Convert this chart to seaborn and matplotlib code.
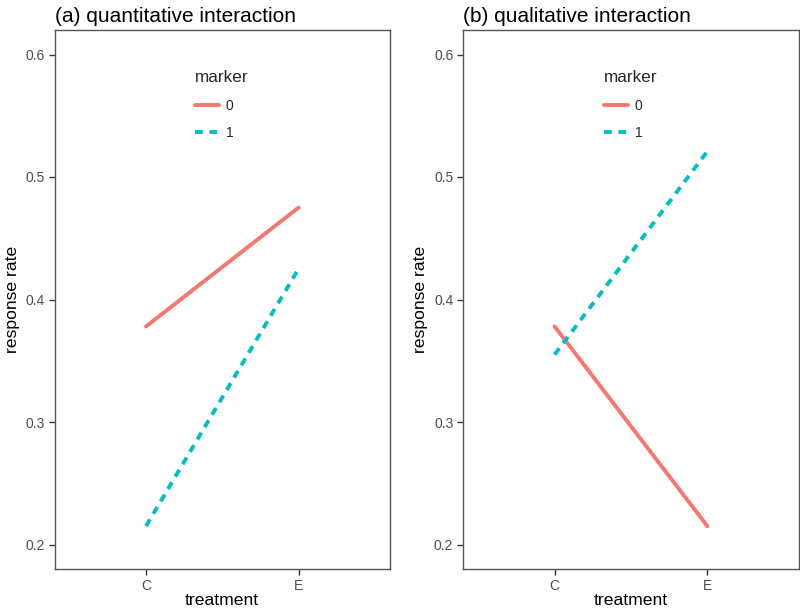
import matplotlib
matplotlib.use("Agg")
import matplotlib.pyplot as plt
import seaborn as sns
import pandas as pd

treatments = ["C", "E"]
markers = ["0", "1"]
rate_a_m0 = [0.378, 0.475]
rate_a_m1 = [0.215, 0.425]
rate_b_m0 = [0.378, 0.215]
rate_b_m1 = [0.355, 0.521]
titles = ["(a) quantitative interaction", "(b) qualitative interaction"]
yticks = [0.2, 0.3, 0.4, 0.5, 0.6]

def make_df(m0, m1):
    rows = []
    for t, v in zip(treatments, m0):
        rows.append({"treatment": t, "response rate": v, "marker": markers[0]})
    for t, v in zip(treatments, m1):
        rows.append({"treatment": t, "response rate": v, "marker": markers[1]})
    return pd.DataFrame(rows)

dfs = [make_df(rate_a_m0, rate_a_m1), make_df(rate_b_m0, rate_b_m1)]

sns.set_style("white")
plt.rcParams["font.family"] = ["Liberation Sans", "DejaVu Sans"]

fig = plt.figure(figsize=(8, 6.1), dpi=100)
axes_pos = [
    [54.5 / 800, 1 - 569 / 610, (390 - 54.5) / 800, (569 - 30) / 610],
    [463 / 800, 1 - 569 / 610, (799 - 463) / 800, (569 - 30) / 610],
]
palette = {"0": "#F8766D", "1": "#00BFC4"}
dashes = {"0": "", "1": (2.0, 1.7)}

for i, (pos, df, title) in enumerate(zip(axes_pos, dfs, titles)):
    ax = fig.add_axes(pos)
    sns.lineplot(data=df, x="treatment", y="response rate", hue="marker",
                 style="marker", palette=palette, dashes=dashes,
                 hue_order=markers, style_order=markers,
                 linewidth=2.8, ax=ax)
    ax.set_xlim(-0.6, 1.6)
    ax.set_ylim(0.18, 0.62)
    ax.set_xticks([0, 1])
    ax.set_xticklabels(treatments)
    ax.set_yticks(yticks)
    ax.set_yticklabels([f"{v:.1f}" for v in yticks])
    for s in ax.spines.values():
        s.set_visible(True)
        s.set_color("#555555")
        s.set_linewidth(1.0)
    ax.tick_params(axis="both", which="major", direction="out", length=4,
                   width=1.0, color="#333333", labelcolor="#4D4D4D",
                   labelsize=10, pad=3, left=True, bottom=True)
    ax.set_xlabel("treatment", fontsize=12.6, color="black", labelpad=0)
    ax.set_ylabel("response rate", fontsize=12.6, color="black", labelpad=4)
    ax.set_title(title, loc="left", fontsize=15, color="black", pad=6)
    ax.grid(False)
    leg = ax.legend(title="marker", loc="upper left",
                    bbox_to_anchor=(0.42, 0.925), frameon=False,
                    borderaxespad=0, borderpad=0, fontsize=10,
                    title_fontsize=12.3, handlelength=1.7,
                    handletextpad=0.5, labelspacing=0.95,
                    alignment="left")
    for h in leg.get_lines():
        h.set_linewidth(2.8)

fig.savefig("out.png", dpi=100, facecolor="white")
